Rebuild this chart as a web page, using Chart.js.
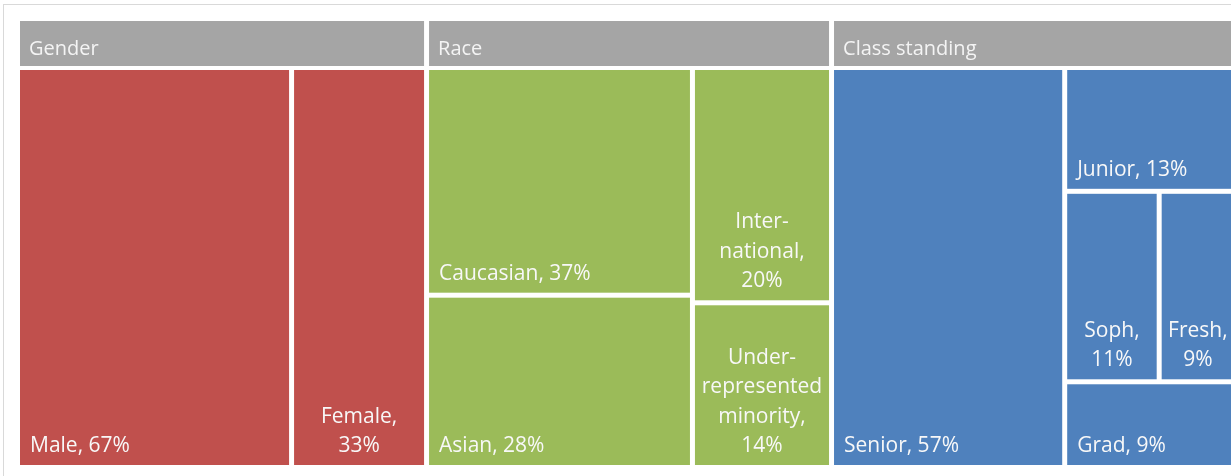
<!DOCTYPE html>
<html>
<head>
<meta charset="utf-8">
<script src="https://cdn.jsdelivr.net/npm/chart.js@4.4.0/dist/chart.umd.min.js"></script>
<style>
  html, body { margin: 0; padding: 0; background: #fff; overflow: hidden; }
  #wrap { position: absolute; left: 0; top: 0; width: 1262px; height: 476px; }
</style>
</head>
<body>
<div id="wrap"><canvas id="myChart"></canvas></div>
<script>
// treemap data, one list per group (values are % of each group)
var groupNames = ['Gender', 'Race', 'Class standing'];
var genderLabels = ['Male', 'Female'];
var genderValues = [67, 33];
var raceLabels = ['Caucasian', 'Asian', 'Inter-national', 'Under-represented minority'];
var raceValues = [37, 28, 20, 14];
var classLabels = ['Senior', 'Junior', 'Soph', 'Fresh', 'Grad'];
var classValues = [57, 13, 11, 9, 9];
var groupColors = ['#c0504d', '#9bbb59', '#4f81bd'];

var FONT = '21px "Open Sans", sans-serif';
var HEAD_FONT = '20px "Open Sans", sans-serif';
var GAP = 5;

function sumOf(arr) {
    return arr.reduce(function (a, b) { return a + b; }, 0);
}

function worst(row, side, total, area) {
    var sum = row.reduce(function (a, b) { return a + b.v; }, 0);
    var thick = sum / total * area / side;
    var w = 0;
    row.forEach(function (it) {
        var len = it.v / sum * side;
        w = Math.max(w, thick / len, len / thick);
    });
    return w;
}

// squarified layout in pixels, items sorted desc
function layout(items, x, y, w, h) {
    var out = [];
    var rest = items.slice();
    while (rest.length) {
        var total = rest.reduce(function (a, b) { return a + b.v; }, 0);
        if (rest.length == 1) {
            out.push({ it: rest[0], x0: x, y0: y, x1: x + w, y1: y + h });
            break;
        }
        var vertical = w >= h; // column along the left
        var side = vertical ? h : w;
        var row = [rest[0]];
        var best = worst(row, side, total, w * h);
        for (var i = 1; i < rest.length; i++) {
            var cand = row.concat([rest[i]]);
            var r = worst(cand, side, total, w * h);
            if (r <= best * 1.6) { row = cand; best = r; } else break;
        }
        var sum = row.reduce(function (a, b) { return a + b.v; }, 0);
        var thick = sum / total * (vertical ? w : h);
        var pos = vertical ? y : x;
        row.forEach(function (it) {
            var len = it.v / sum * side;
            if (vertical) out.push({ it: it, x0: x, y0: pos, x1: x + thick, y1: pos + len });
            else out.push({ it: it, x0: pos, y0: y, x1: pos + len, y1: y + thick });
            pos += len;
        });
        rest = rest.slice(row.length);
        if (vertical) { x += thick; w -= thick; } else { y += thick; h -= thick; }
    }
    return out;
}

function wrapText(ctx, text, maxW) {
    var tokens = [];
    text.split(' ').forEach(function (word) {
        var parts = word.split('-');
        parts.forEach(function (p, i) {
            tokens.push({ t: p + (i < parts.length - 1 ? '-' : ''), hy: i < parts.length - 1 });
        });
    });
    var lines = [];
    var cur = '';
    var prevHy = false;
    tokens.forEach(function (tk) {
        var next = cur === '' ? tk.t : cur + (prevHy ? '' : ' ') + tk.t;
        if (cur !== '' && ctx.measureText(next).width > maxW) {
            lines.push(cur);
            cur = tk.t;
        } else {
            cur = next;
        }
        prevHy = tk.hy;
    });
    if (cur) lines.push(cur);
    return lines;
}

var treemapPlugin = {
    id: 'treemap',
    beforeDraw: function (chart) {
        var ctx = chart.ctx;
        ctx.save();
        ctx.strokeStyle = '#d9d9d9';
        ctx.lineWidth = 1;
        ctx.strokeRect(3.5, 4.5, chart.width + 20, chart.height + 20);
        ctx.restore();
    },
    afterDatasetsDraw: function (chart) {
        var ctx = chart.ctx;
        var xs = chart.scales.x, ys = chart.scales.y;
        ctx.save();
        var start = 0;
        chart.data.datasets.forEach(function (ds, g) {
            var total = ds.data.reduce(function (a, d) { return a + d.y; }, 0);
            var gx0 = xs.getPixelForValue(start);
            var gx1 = xs.getPixelForValue(start + total);
            var gy0 = ys.getPixelForValue(0);
            var gy1 = ys.getPixelForValue(100);
            start += total;

            // group header
            ctx.fillStyle = '#a5a5a5';
            ctx.fillRect(gx0, gy0 - 49, gx1 - gx0 - GAP, 45);
            ctx.font = HEAD_FONT;
            ctx.fillStyle = '#f4f4f4';
            ctx.textAlign = 'left';
            ctx.textBaseline = 'alphabetic';
            ctx.fillText(ds.label, gx0 + 9, gy0 - 15);

            ctx.font = FONT;
            var items = ds.data.map(function (d, i) { return { v: d.y, name: ds.names[i] }; });
            var cells = layout(items, gx0, gy0, gx1 - gx0, gy1 - gy0);
            cells.forEach(function (c) {
                var x0 = c.x0, y0 = c.y0, x1 = c.x1 - GAP, y1 = c.y1 - GAP;
                ctx.fillStyle = ds.backgroundColor;
                ctx.fillRect(x0, y0, x1 - x0, y1 - y0);

                var txt = c.it.name + ', ' + c.it.v + '%';
                var maxW = x1 - x0 - 20;
                ctx.fillStyle = '#f8f8f8';
                if (ctx.measureText(txt).width <= maxW) {
                    ctx.textAlign = 'left';
                    ctx.fillText(txt, x0 + 10, y1 - 13);
                } else {
                    var lines = wrapText(ctx, txt, maxW);
                    ctx.textAlign = 'center';
                    lines.forEach(function (ln, k) {
                        ctx.fillText(ln, (x0 + x1) / 2, y1 - 13 - (lines.length - 1 - k) * 29.5);
                    });
                }
            });
        });
        ctx.restore();
    }
};

var sets = [
    { label: groupNames[0], names: genderLabels, values: genderValues },
    { label: groupNames[1], names: raceLabels, values: raceValues },
    { label: groupNames[2], names: classLabels, values: classValues }
];
var grandTotal = sumOf(genderValues) + sumOf(raceValues) + sumOf(classValues);

var ctx = document.getElementById('myChart');
var myTreemap = new Chart(ctx, {
    type: 'scatter',
    data: {
        datasets: sets.map(function (s, g) {
            return {
                label: s.label,
                names: s.names,
                data: s.values.map(function (v) { return { x: g, y: v }; }),
                backgroundColor: groupColors[g],
                pointRadius: 0,
                pointHoverRadius: 0
            };
        })
    },
    options: {
        responsive: true,
        maintainAspectRatio: false,
        animation: false,
        events: [],
        layout: { padding: { left: 20, top: 70, right: 23, bottom: 6 } },
        scales: {
            x: { type: 'linear', min: 0, max: grandTotal, display: false },
            y: { type: 'linear', min: 0, max: 100, reverse: true, display: false }
        },
        plugins: { legend: { display: false }, tooltip: { enabled: false } }
    },
    plugins: [treemapPlugin]
});
</script>
</body>
</html>
